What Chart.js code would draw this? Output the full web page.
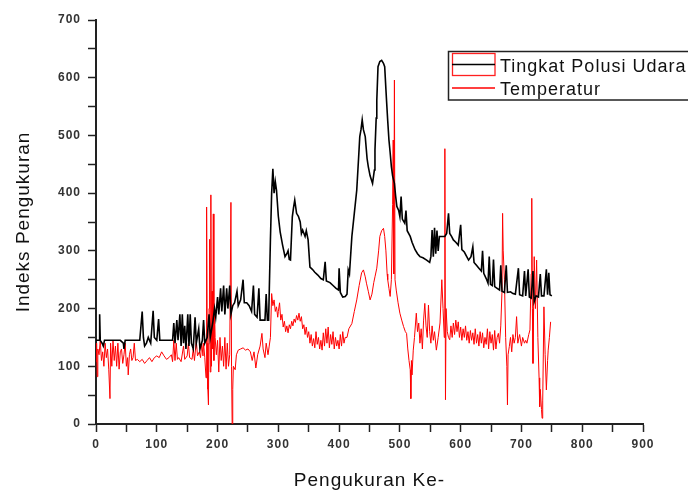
<!DOCTYPE html>
<html>
<head>
<meta charset="utf-8">
<script src="https://cdn.jsdelivr.net/npm/chart.js@4/dist/chart.umd.min.js"></script>
<style>
html,body{margin:0;padding:0;background:#fff;}
#wrap{width:688px;height:490px;}
</style>
</head>
<body>
<div id="wrap"><canvas id="c" width="688" height="490"></canvas></div>
<script>
// ---- data ----
const seriesNames = ["Tingkat Polusi Udara", "Temperatur"];
const xTitle = "Pengukuran Ke-";
const yTitle = "Indeks Pengukuran";

const polusiX = [0,5,6,7,10,12,14,20,25,30,40,45,46,48,60,72,76,78,80,83,86,90,94,96,100,103,105,110,120,126,128,130,133,135,138,140,142,144,146,148,151,153,155,157,160,163,165,169,171,175,177,179,183,186,188,192,195,197,200,202,205,207,210,212,215,217,220,222,225,228,232,234,238,242,244,248,252,256,259,261,265,268,270,274,278,280,282,284,287,289,291,293,295,297,300,303,307,311,314,316,318,320,323,325,327,330,333,336,338,340,344,346,349,352,356,360,365,370,374,377,379,385,390,395,399,400,402,406,410,413,415,417,421,425,429,432,434,436,438,440,443,446,448,451,455,458,459,461,462,464,467,470,473,475,477,478,480,482,484,486,488,491,493,495,498,500,502,504,508,510,512,517,520,525,529,533,538,544,549,551,553,555,557,559,561,563,565,570,574,577,580,582,585,588,592,596,600,602,606,610,613,617,620,622,626,630,634,636,638,642,645,647,649,652,654,656,660,664,666,668,672,675,677,682,686,690,695,697,702,705,707,711,713,716,719,721,724,728,731,733,737,741,743,745,747,750];
const polusiY = [145,145,190,145,140,135,145,145,145,145,145,140,130,145,145,145,195,150,135,140,150,140,196,150,145,182,145,145,145,145,175,140,180,145,190,135,190,140,170,130,190,135,190,140,130,185,140,165,130,145,180,140,150,190,150,175,200,185,220,190,235,195,240,190,235,200,240,190,205,210,230,205,215,250,210,210,205,195,240,190,185,235,180,180,180,225,180,180,320,400,442,400,420,405,360,333,310,290,295,300,285,284,359,375,388,365,360,350,330,336,325,335,319,272,268,263,258,252,250,281,248,245,240,235,232,270,228,220,221,225,267,260,325,365,405,460,498,510,527,510,498,460,446,430,417,440,475,530,561,619,628,630,625,619,580,561,525,492,470,446,430,417,395,377,370,359,394,355,348,370,335,325,315,302,295,290,288,284,280,290,336,290,340,295,335,300,325,325,325,330,365,330,325,319,315,310,345,302,298,290,284,290,307,280,275,270,265,300,261,252,244,290,242,240,285,238,235,232,275,230,228,275,228,229,226,225,270,224,222,265,222,268,220,218,265,212,222,220,260,222,222,268,224,262,224,222];

const suhuX = [0,1,2,3,5,7,9,11,13,15,17,19,21,23,24,26,28,30,32,34,36,38,40,42,44,46,48,50,52,53,55,57,59,61,63,65,68,72,76,80,84,88,92,96,100,104,108,112,116,120,124,126,128,130,132,134,136,140,144,146,150,152,154,158,160,162,165,167,170,172,174,176,
177,179,181,182,183,184,185,186,187,188,189,190,191,192,193,194,195,196,198,200,202,204,206,208,210,212,214,216,218,220,222,223,224,225,226,
229,231,234,238,242,246,250,254,257,260,263,266,270,273,275,278,280,283,285,287,289,291,293,295,297,299,
300,302,304,306,308,310,312,314,316,318,320,322,324,326,328,330,332,334,336,338,340,342,344,346,348,350,352,354,356,358,360,362,364,366,368,370,372,374,376,378,380,382,384,386,388,390,392,394,396,398,400,402,404,406,408,410,
413,416,421,425,429,433,437,440,443,445,448,451,454,457,459,462,465,467,470,473,475,477,479,480,482,484,486,488,489,490,491,492,494,497,500,503,506,509,511,513,515,517,518,519,520,522,524,527,529,531,533,535,537,539,541,543,545,547,549,551,553,555,557,560,563,566,569,571,573,574,575,576,578,
580,582,584,586,588,590,592,594,596,598,600,602,604,606,608,610,612,614,616,618,620,622,624,626,628,630,632,634,636,638,640,642,644,646,648,650,652,654,656,658,660,662,664,666,
668,669,670,672,674,676,677,678,680,682,684,686,688,690,692,694,697,700,702,705,707,709,712,714,716,717,718,719,721,723,725,727,729,730,731,733,734,735,737,739,741,743,744,746,748];
const suhuY = [108,140,82,130,120,145,110,125,100,140,115,130,95,44,140,100,145,110,135,100,140,95,125,130,105,120,140,100,115,85,120,130,110,115,140,110,112,108,112,105,110,115,108,115,118,115,125,118,112,115,120,108,145,110,140,112,115,108,135,112,118,140,115,112,130,110,145,118,125,115,140,118,
140,115,80,376,140,60,33,200,320,90,397,100,230,130,364,110,200,150,120,145,90,150,110,135,100,150,95,140,100,120,384,100,0,60,100,
94,120,128,130,132,128,130,125,110,125,97,120,135,157,130,115,140,120,135,150,226,205,215,195,203,185,
195,210,180,190,168,178,160,170,158,172,165,178,170,182,176,188,180,192,178,186,165,172,155,168,150,160,140,155,135,148,132,160,138,150,130,145,128,158,135,165,140,168,132,155,138,160,130,150,135,145,130,155,135,160,140,150,
150,165,174,195,215,240,262,267,255,244,230,215,225,245,255,270,300,325,335,339,325,300,260,250,235,221,250,380,492,260,596,250,232,210,192,180,169,160,157,130,110,94,44,110,85,128,150,192,160,175,140,165,130,180,209,170,150,206,160,140,170,145,160,128,150,175,250,200,150,477,42,200,160,
150,146,170,150,175,155,180,160,177,150,168,145,165,150,170,145,160,140,162,145,158,138,165,140,155,135,160,140,158,132,150,138,165,130,160,140,155,128,162,130,150,157,140,170,
230,365,300,250,150,100,33,120,134,150,125,155,140,150,186,140,155,135,150,140,145,140,155,163,260,391,200,105,290,200,284,150,80,30,60,25,10,40,203,120,59,110,128,150,177];

const xTicksMax = 900, yTicksMax = 700;

function pts(xs, ys){ return xs.map((x,i)=>({x:x, y:ys[i]})); }

const FONT = "'Liberation Sans', Arial, sans-serif";

const spacingPlugin = {
  id:'spacing',
  beforeUpdate(chart){ chart.ctx.letterSpacing = '1px'; },
  beforeDraw(chart){ chart.ctx.letterSpacing = '1px'; }
};

const legendPlugin = {
  id:'customLegend',
  afterDraw(chart){
    const ctx = chart.ctx;
    ctx.save();
    ctx.letterSpacing = '1px';
    ctx.strokeStyle = '#222';
    ctx.lineWidth = 1.5;
    ctx.strokeRect(448.5, 51.5, 260, 48.5);
    // row 1
    ctx.strokeStyle = '#ff2020';
    ctx.lineWidth = 1.3;
    ctx.strokeRect(452.5, 53.5, 42.5, 22);
    ctx.strokeStyle = '#000';
    ctx.lineWidth = 1.5;
    ctx.beginPath(); ctx.moveTo(452, 64.5); ctx.lineTo(495, 64.5); ctx.stroke();
    // row 2
    ctx.strokeStyle = '#ff0000';
    ctx.lineWidth = 1.3;
    ctx.beginPath(); ctx.moveTo(452, 88); ctx.lineTo(495, 88); ctx.stroke();
    ctx.fillStyle = '#111';
    ctx.font = "18px " + FONT;
    ctx.textBaseline = 'alphabetic';
    ctx.textAlign = 'left';
    ctx.fillText(seriesNames[0], 500, 71.5);
    ctx.fillText(seriesNames[1], 500, 95);
    ctx.restore();
  }
};

new Chart(document.getElementById('c'), {
  type:'line',
  data:{
    datasets:[
      {label:seriesNames[1], data:pts(suhuX, suhuY), borderColor:'#ff0000', borderWidth:1, pointRadius:0, tension:0, fill:false, order:2},
      {label:seriesNames[0], data:pts(polusiX, polusiY), borderColor:'#000000', borderWidth:1.6, pointRadius:0, tension:0, fill:false, order:1}
    ]
  },
  options:{
    responsive:false,
    animation:false,
    events:[],
    layout:{padding:{top:20, right:45, left:0, bottom:0}},
    plugins:{legend:{display:false}, tooltip:{enabled:false}},
    scales:{
      x:{
        type:'linear', min:0, max:xTicksMax,
        afterFit(s){ s.height = 66; },
        border:{display:true, color:'#222', width:2},
        grid:{drawOnChartArea:false, drawTicks:true, tickLength:8, tickColor:'#222', tickWidth:1.5},
        ticks:{stepSize:50, padding:5, color:'#333', font:{family:FONT, size:12, weight:'bold'},
          callback:(v)=> v%100===0 ? String(v) : '' , maxRotation:0, autoSkip:false},
        title:{display:true, text:xTitle, color:'#111', font:{family:FONT, size:19, lineHeight:1}, padding:{top:0,bottom:0}}
      },
      y:{
        type:'linear', min:0, max:yTicksMax,
        afterFit(s){ s.width = 96; },
        border:{display:true, color:'#222', width:2},
        grid:{drawOnChartArea:false, drawTicks:true, tickLength:8, tickColor:'#222', tickWidth:1.5},
        ticks:{stepSize:50, padding:7, color:'#333', font:{family:FONT, size:12, weight:'bold'},
          callback:(v)=> v%100===0 ? String(v) : '', autoSkip:false},
        title:{display:true, text:yTitle, color:'#111', font:{family:FONT, size:19, lineHeight:1}, padding:{top:14,bottom:0}}
      }
    }
  },
  plugins:[spacingPlugin, legendPlugin]
});
</script>
</body>
</html>
